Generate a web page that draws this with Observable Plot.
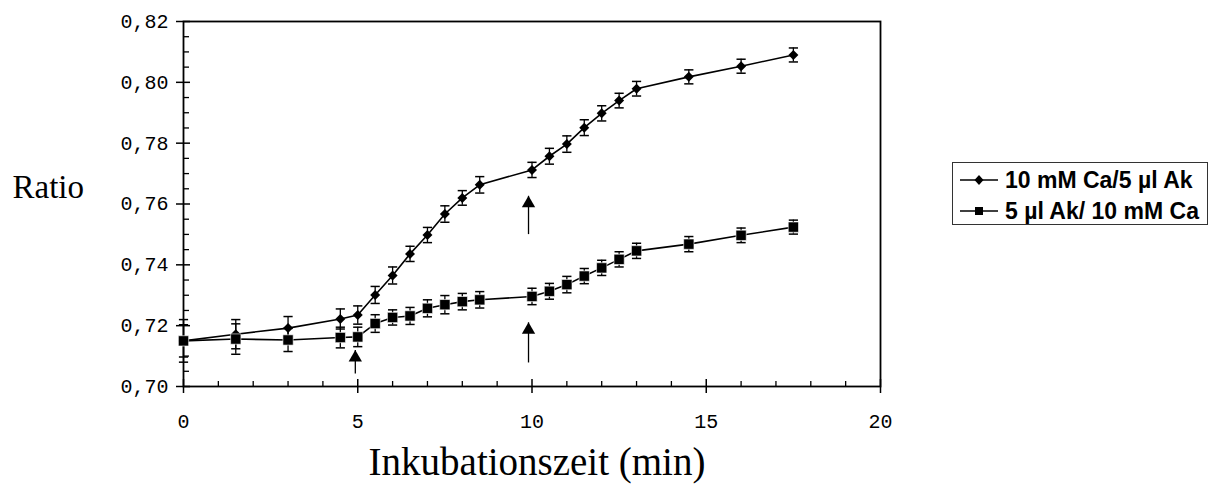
<!DOCTYPE html>
<html><head><meta charset="utf-8">
<script src="https://cdn.jsdelivr.net/npm/d3@7"></script>
<script src="https://cdn.jsdelivr.net/npm/@observablehq/plot@0.6"></script>
<style>
html,body{margin:0;padding:0;background:#fff;}
#wrap{position:relative;width:1213px;height:490px;}
#legend{position:absolute;left:952px;top:162px;width:254px;height:61px;border:1px solid #333;font-family:"Liberation Sans",Arial,sans-serif;font-weight:bold;font-size:23px;color:#000;background:#fff;}
.row{position:absolute;left:0;height:30px;display:flex;align-items:center;white-space:nowrap;}
.row svg{display:block;margin-right:2px;}
</style></head><body><div id="wrap"></div>
<script>
// ---- data ----
const times = [0,1.5,3,4.5,5,5.5,6,6.5,7,7.5,8,8.5,10,10.5,11,11.5,12,12.5,13,14.5,16,17.5];
const seriesNames = ["10 mM Ca/5 µl Ak", "5 µl Ak/ 10 mM Ca"];
const ratioCaAk = [0.7150,0.7172,0.7192,0.7222,0.7235,0.7301,0.7365,0.7436,0.7498,0.7567,0.7620,0.7663,0.7712,0.7757,0.7797,0.7851,0.7898,0.7940,0.7979,0.8018,0.8053,0.8090];
const errCaAk   = [0.0070,0.0048,0.0038,0.0033,0.0030,0.0028,0.0028,0.0025,0.0025,0.0027,0.0024,0.0027,0.0025,0.0026,0.0027,0.0026,0.0025,0.0024,0.0024,0.0023,0.0023,0.0023];
const ratioAkCa = [0.7150,0.7156,0.7153,0.7161,0.7163,0.7207,0.7227,0.7232,0.7257,0.7269,0.7279,0.7285,0.7296,0.7313,0.7335,0.7363,0.7390,0.7418,0.7446,0.7468,0.7497,0.7524];
const errAkCa   = [0.0053,0.0050,0.0038,0.0034,0.0032,0.0029,0.0025,0.0028,0.0028,0.0030,0.0027,0.0027,0.0027,0.0026,0.0027,0.0025,0.0025,0.0025,0.0025,0.0025,0.0024,0.0023];
// annotation arrows (time, ratio at tail, ratio at tip)
const arrowTimes = [4.93, 9.9, 9.9];
const arrowFrom  = [0.7043, 0.7501, 0.7079];
const arrowTo    = [0.7120, 0.7627, 0.7211];
// axes
const yTicks = [0.70,0.72,0.74,0.76,0.78,0.80,0.82];
const yTickLabels = ["0,70","0,72","0,74","0,76","0,78","0,80","0,82"];
const yMinorTicks = [0.705,0.71,0.715,0.725,0.73,0.735,0.745,0.75,0.755,0.765,0.77,0.775,0.785,0.79,0.795,0.805,0.81,0.815];
const xTicks = [0,5,10,15,20];
const xTickLabels = ["0","5","10","15","20"];
const xMinorTicks = [1,2,3,4,6,7,8,9,11,12,13,14,16,17,18,19];
const xTitle = "Inkubationszeit (min)";
const yTitle = "Ratio";

// ---- tables ----
const mk = (name, ys, es) => times.map((t, i) => ({series: name, t, r: ys[i], lo: ys[i] - es[i], hi: ys[i] + es[i]}));
const dA = mk(seriesNames[0], ratioCaAk, errCaAk);
const dB = mk(seriesNames[1], ratioAkCa, errAkCa);
const arrows = arrowTimes.map((t, i) => ({t, y1: arrowFrom[i], y2: arrowTo[i]}));
const cap = {draw(ctx, size) { const w = Math.sqrt(size / Math.PI); ctx.moveTo(-w, 0); ctx.lineTo(w, 0); }};
const lbl = (ticks, labels) => d => labels[ticks.findIndex(v => Math.abs(v - d) < 1e-9)];

const errMarks = (d) => [
  Plot.ruleX(d, {x: "t", y1: "lo", y2: "hi", stroke: "#000", strokeWidth: 1.3}),
  Plot.dot(d, {x: "t", y: "hi", symbol: cap, r: 4.6, stroke: "#000", fill: "none", strokeWidth: 1.5}),
  Plot.dot(d, {x: "t", y: "lo", symbol: cap, r: 4.6, stroke: "#000", fill: "none", strokeWidth: 1.5})
];

const chart = Plot.plot({
  width: 1213, height: 490,
  marginLeft: 183, marginRight: 333, marginTop: 21, marginBottom: 104,
  style: {fontFamily: "'Liberation Mono','Courier New',monospace", fontSize: "20px", color: "#000", background: "#fff", overflow: "visible"},
  x: {domain: [0, 20]},
  y: {domain: [0.70, 0.82]},
  marks: [
    Plot.frame({stroke: "#000", strokeWidth: 1.8}),
    Plot.axisY(yMinorTicks, {tickSize: 6, dx: 6, fill: "none", label: null, strokeWidth: 1.3}),
    Plot.axisY(yTicks, {tickSize: 14, dx: 7, fill: "none", label: null, strokeWidth: 1.5}),
    Plot.axisY(yTicks, {tickSize: 0, tickPadding: 15, tickFormat: lbl(yTicks, yTickLabels), label: null}),
    Plot.axisX(xMinorTicks, {tickSize: 5, dy: -5, fill: "none", label: null, strokeWidth: 1.3}),
    Plot.axisX(xTicks, {tickSize: 14, dy: -7, fill: "none", label: null, strokeWidth: 1.5}),
    Plot.axisX(xTicks, {tickSize: 0, tickPadding: 27, tickFormat: lbl(xTicks, xTickLabels), label: null}),
    ...errMarks(dA),
    ...errMarks(dB),
    Plot.line(dA, {x: "t", y: "r", stroke: "#000", strokeWidth: 1.6}),
    Plot.line(dB, {x: "t", y: "r", stroke: "#000", strokeWidth: 1.6}),
    Plot.dot(dA, {x: "t", y: "r", symbol: "diamond2", r: 4.5, fill: "#000", stroke: "none"}),
    Plot.dot(dB, {x: "t", y: "r", symbol: "square", r: 5.8, fill: "#000", stroke: "#fff", strokeWidth: 0.6}),
    Plot.link(arrows, {x1: "t", x2: "t", y1: "y1", y2: "y2", stroke: "#000", strokeWidth: 1.3}),
    Plot.dot(arrows, {x: "t", y: "y2", symbol: "triangle", r: 4.94, dy: 7.7, fill: "#000", stroke: "none"}),
    Plot.text([yTitle], {frameAnchor: "left", text: d => d, textAnchor: "start", dx: -171, dy: -17,
      fontFamily: "'Liberation Serif','Times New Roman',serif", fontSize: 33, fill: "#000"}),
    Plot.text([xTitle], {frameAnchor: "bottom", text: d => d, dx: 5, dy: 88,
      fontFamily: "'Liberation Serif','Times New Roman',serif", fontSize: 39, fill: "#000"})
  ]
});

const wrap = document.getElementById("wrap");
wrap.appendChild(chart);

// legend
const legend = document.createElement("div");
legend.id = "legend";
const symbols = [
  '<polygon points="26,10 30.5,15 26,20 21.5,15" fill="#000"/>',
  '<rect x="22" y="11" width="8" height="8" fill="#000"/>'
];
seriesNames.forEach((name, i) => {
  const row = document.createElement("div");
  row.className = "row";
  row.style.top = (i === 0 ? 2 : 33) + "px";
  row.innerHTML = `<svg width="50" height="30"><line x1="7" x2="45" y1="15" y2="15" stroke="#000" stroke-width="1.6"/>${symbols[i]}</svg><span>${name}</span>`;
  legend.appendChild(row);
});
wrap.appendChild(legend);
</script>
</body></html>
